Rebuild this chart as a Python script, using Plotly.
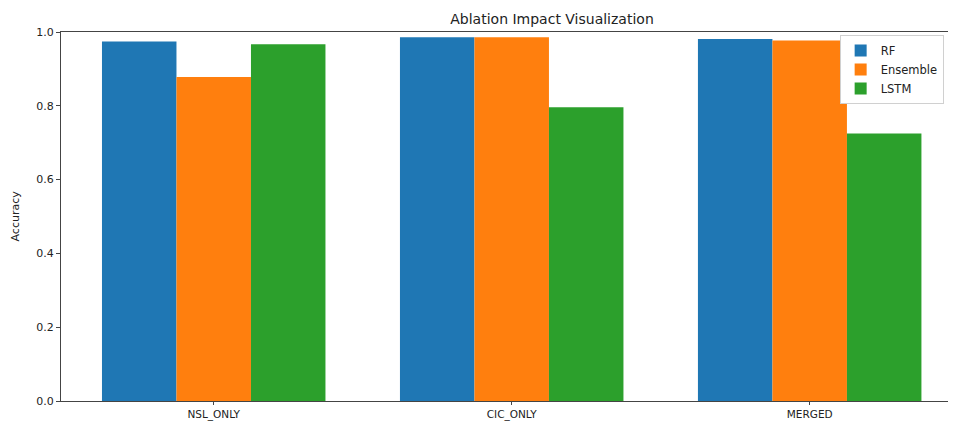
import plotly.graph_objects as go

categories = ["NSL_ONLY", "CIC_ONLY", "MERGED"]
rf = [0.974, 0.986, 0.981]
ensemble = [0.878, 0.986, 0.977]
lstm = [0.967, 0.796, 0.725]
series_names = ["RF", "Ensemble", "LSTM"]
colors = ["#1f77b4", "#ff7f0e", "#2ca02c"]
yticks = [0.0, 0.2, 0.4, 0.6, 0.8, 1.0]

# page body has an 8px margin, so the figure is offset by 8px
W, H = 948, 413
fig = go.Figure()
for name, vals, c in zip(series_names, [rf, ensemble, lstm], colors):
    fig.add_trace(go.Bar(x=categories, y=vals, name=name, marker=dict(color=c, line=dict(width=0))))

FONT = "DejaVu Sans"
fig.update_layout(
    width=W, height=H,
    margin=dict(l=53, r=0, t=24, b=20, autoexpand=False),
    plot_bgcolor="white", paper_bgcolor="white",
    barmode="group", bargap=0.25, bargroupgap=0,
    font=dict(family=FONT, size=11, color="#222"),
    title=dict(text="Ablation Impact Visualization", x=(552 - 8) / W, xref="container", xanchor="center",
               y=1 - (19 - 8) / H, yref="container", yanchor="middle",
               font=dict(family=FONT, size=14, color="#222")),
    legend=dict(x=0.870, y=0.992, xanchor="left", yanchor="top",
                bordercolor="#d0d0d0", borderwidth=1, bgcolor="white",
                font=dict(family=FONT, size=11.5, color="#222"),
                tracegroupgap=0, itemwidth=30),
    showlegend=True,
)
fig.update_xaxes(range=[-0.5125, 2.491], showline=True, linecolor="#444", linewidth=1, mirror=True,
                 ticks="outside", ticklen=3, tickcolor="#444", showgrid=False, zeroline=False,
                 automargin=False,
                 tickfont=dict(family=FONT, size=10.5, color="#222"))
fig.update_yaxes(range=[0, 1.0], tickvals=yticks, ticktext=[f"{v:.1f}" for v in yticks],
                 showline=True, linecolor="#444", linewidth=1, mirror=False,
                 ticks="outside", ticklen=4, tickcolor="#444", showgrid=False, zeroline=False,
                 automargin=False,
                 tickfont=dict(family=FONT, size=11, color="#222"))
fig.add_annotation(text="Accuracy", x=(15 - 61) / 895, y=0.5, xref="paper", yref="paper",
                   textangle=-90, showarrow=False, xanchor="center", yanchor="middle",
                   font=dict(family=FONT, size=11, color="#222"))
fig.write_html("out.html")
